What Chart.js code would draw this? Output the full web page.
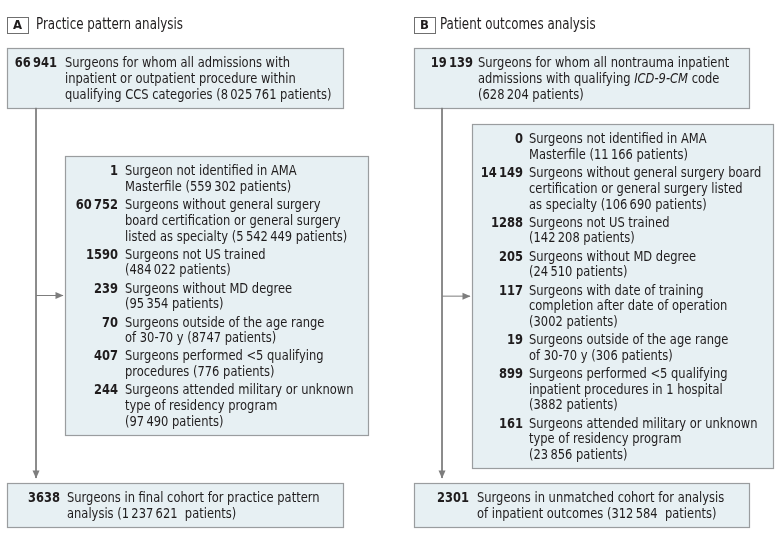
<!DOCTYPE html>
<html>
<head>
<meta charset="utf-8">
<script src="https://cdn.jsdelivr.net/npm/chart.js@4.4.1/dist/chart.umd.min.js"></script>
<style>
  html, body { margin: 0; padding: 0; background: #fff; }
  #wrap { width: 783px; height: 540px; }
</style>
</head>
<body>
<div id="wrap"><canvas id="flow" width="783" height="540"></canvas></div>
<script>
// ---- data ----
const panelLetters = ['A', 'B']
const panelTitles  = ['Practice pattern analysis', 'Patient outcomes analysis']

const startCounts = ['66\u2009941', '19\u2009139']
const startLines  = [
  ['Surgeons for whom all admissions with', 'inpatient or outpatient procedure within', 'qualifying CCS categories (8\u2009025\u2009761 patients)'],
  ['Surgeons for whom all nontrauma inpatient', 'admissions with qualifying *ICD-9-CM* code', '(628\u2009204 patients)']
]

const exclusionCountsA = ['1', '60\u2009752', '1590', '239', '70', '407', '244']
const exclusionLinesA  = [
  ['Surgeon not identified in AMA', 'Masterfile (559\u2009302 patients)'],
  ['Surgeons without general surgery', 'board certification or general surgery', 'listed as specialty (5\u2009542\u2009449 patients)'],
  ['Surgeons not US trained', '(484\u2009022 patients)'],
  ['Surgeons without MD degree', '(95\u2009354 patients)'],
  ['Surgeons outside of the age range', 'of 30-70 y (8747 patients)'],
  ['Surgeons performed <5 qualifying', 'procedures (776 patients)'],
  ['Surgeons attended military or unknown', 'type of residency program', '(97\u2009490 patients)']
]

const exclusionCountsB = ['0', '14\u2009149', '1288', '205', '117', '19', '899', '161']
const exclusionLinesB  = [
  ['Surgeons not identified in AMA', 'Masterfile (11\u2009166 patients)'],
  ['Surgeons without general surgery board', 'certification or general surgery listed', 'as specialty (106\u2009690 patients)'],
  ['Surgeons not US trained', '(142\u2009208 patients)'],
  ['Surgeons without MD degree', '(24\u2009510 patients)'],
  ['Surgeons with date of training', 'completion after date of operation', '(3002 patients)'],
  ['Surgeons outside of the age range', 'of 30-70 y (306 patients)'],
  ['Surgeons performed <5 qualifying', 'inpatient procedures in 1 hospital', '(3882 patients)'],
  ['Surgeons attended military or unknown', 'type of residency program', '(23\u2009856 patients)']
]

const finalCounts = ['3638', '2301']
const finalLines  = [
  ['Surgeons in final cohort for practice pattern', 'analysis (1\u2009237\u2009621  patients)'],
  ['Surgeons in unmatched cohort for analysis', 'of inpatient outcomes (312\u2009584  patients)']
]

// ---- layout (in canvas units, mapped through the chart scales) ----
const W = 783, H = 540
const lineH = 15.7, groupGap = 2.5, padTop = 15.5, padBottom = 13
const layout = [
  { letter: 7,   title: 36,  trunk: 36,
    top:   { x0: 7,   x1: 343, y0: 48,  num: 57,  txt: 65 },
    excl:  { x0: 65,  x1: 368, y0: 156, num: 118, txt: 125 },
    final: { x0: 7,   x1: 343, y0: 483, num: 60,  txt: 67 } },
  { letter: 414, title: 440, trunk: 442,
    top:   { x0: 414, x1: 749, y0: 48,  num: 473, txt: 478 },
    excl:  { x0: 472, x1: 773, y0: 124, num: 523, txt: 529 },
    final: { x0: 414, x1: 749, y0: 483, num: 469, txt: 477 } }
]

const boxFill   = '#e7f0f3'
const boxBorder = '#9a9d9f'
const lineColor = '#7d7d7d'
const textColor = '#1f1c1d'
const family    = "'Liberation Sans Narrow', 'DejaVu Sans Condensed', 'Liberation Sans', Arial, sans-serif"
const bodySize  = 14.5

const boxHeight = groups => {
  let n = 0
  groups.forEach(g => n += g.length)
  return padTop + (n - 1) * lineH + (groups.length - 1) * groupGap + padBottom
}

const panels = [0, 1].map(i => {
  const L = layout[i]
  const top   = { ...L.top,   counts: [startCounts[i]], groups: [startLines[i]] }
  const excl  = { ...L.excl,  counts: i === 0 ? exclusionCountsA : exclusionCountsB, groups: i === 0 ? exclusionLinesA : exclusionLinesB }
  const final = { ...L.final, counts: [finalCounts[i]], groups: [finalLines[i]] }
  ;[top, excl, final].forEach(b => b.y1 = b.y0 + boxHeight(b.groups))
  return { letter: panelLetters[i], title: panelTitles[i], L, top, excl, final }
})

// connectors drawn as line datasets
const connectors = []
panels.forEach(p => {
  const mid = (p.excl.y0 + p.excl.y1) / 2
  connectors.push({ data: [{ x: p.L.trunk, y: p.top.y1 }, { x: p.L.trunk, y: p.final.y0 - 5 }] })
  connectors.push({ data: [{ x: p.L.trunk, y: mid }, { x: p.excl.x0 - 2, y: mid }] })
})
connectors.forEach(d => Object.assign(d, {
  showLine: true, pointRadius: 0, borderColor: lineColor, borderWidth: 1, clip: false
}))

let hScale = 1

const drawRich = (ctx, text, x, y, weight) => {
  const parts = text.split('*')
  ctx.save()
  ctx.translate(x, y)
  ctx.scale(hScale, 1)
  ctx.textAlign = 'left'
  let off = 0
  parts.forEach((seg, k) => {
    ctx.font = (k % 2 ? 'italic ' : '') + weight + ' ' + bodySize + 'px ' + family
    ctx.fillText(seg, off, 0)
    off += ctx.measureText(seg).width
  })
  ctx.restore()
}

const flowPlugin = {
  id: 'flow',
  beforeDatasetsDraw(chart) {
    const { ctx, scales: { x, y } } = chart
    const px = v => x.getPixelForValue(v), py = v => y.getPixelForValue(v)

    ctx.save()
    ctx.font = bodySize + 'px ' + family
    hScale = 225 / ctx.measureText(startLines[0][0]).width
    ctx.restore()

    panels.forEach(p => {
      ctx.save()
      // letter tag
      ctx.fillStyle = '#fff'
      ctx.strokeStyle = '#6f6f6f'
      ctx.lineWidth = 1
      ctx.fillRect(px(p.L.letter), py(17), px(p.L.letter + 21) - px(p.L.letter), py(33) - py(17))
      ctx.strokeRect(px(p.L.letter) + 0.5, py(17) + 0.5, px(p.L.letter + 21) - px(p.L.letter), py(33) - py(17))
      ctx.fillStyle = textColor
      ctx.textBaseline = 'middle'
      ctx.textAlign = 'center'
      ctx.font = 'bold 13px ' + family
      ctx.fillText(p.letter, px(p.L.letter + 10.5), py(25.5))
      ctx.textAlign = 'left'
      ctx.save()
      ctx.translate(px(p.L.title), py(25))
      ctx.scale(hScale, 1)
      ctx.font = '15px ' + family
      ctx.fillText(p.title, 0, 0)
      ctx.restore()

      // boxes
      ;[p.top, p.excl, p.final].forEach(b => {
        const bx = Math.round(px(b.x0)) + 0.5, by = Math.round(py(b.y0)) + 0.5
        const bw = Math.round(px(b.x1) - px(b.x0)), bh = Math.round(py(b.y1) - py(b.y0))
        ctx.fillStyle = boxFill
        ctx.fillRect(bx, by, bw, bh)
        ctx.strokeStyle = boxBorder
        ctx.lineWidth = 1.2
        ctx.strokeRect(bx, by, bw, bh)
      })
      ctx.restore()
    })
  },
  afterDatasetsDraw(chart) {
    const { ctx, scales: { x, y } } = chart
    const px = v => x.getPixelForValue(v), py = v => y.getPixelForValue(v)

    ctx.save()
    ctx.fillStyle = lineColor
    panels.forEach(p => {
      // down arrow
      const tx = px(p.L.trunk), ty = py(p.final.y0 - 4.5)
      ctx.beginPath()
      ctx.moveTo(tx, ty)
      ctx.lineTo(tx - 3.5, ty - 8)
      ctx.lineTo(tx + 3.5, ty - 8)
      ctx.closePath()
      ctx.fill()
      // right arrow
      const mid = py((p.excl.y0 + p.excl.y1) / 2)
      const ax = px(p.excl.x0 - 1.5)
      ctx.beginPath()
      ctx.moveTo(ax, mid)
      ctx.lineTo(ax - 8, mid - 3.5)
      ctx.lineTo(ax - 8, mid + 3.5)
      ctx.closePath()
      ctx.fill()
    })
    ctx.restore()

    ctx.save()
    ctx.fillStyle = textColor
    ctx.textBaseline = 'middle'
    panels.forEach(p => {
      ;[p.top, p.excl, p.final].forEach(b => {
        let ly = b.y0 + padTop
        b.groups.forEach((g, gi) => {
          ctx.save()
          ctx.translate(px(b.num), py(ly))
          ctx.scale(hScale, 1)
          ctx.textAlign = 'right'
          ctx.font = 'bold ' + bodySize + 'px ' + family
          ctx.fillText(b.counts[gi], 0, 0)
          ctx.restore()
          g.forEach(line => {
            drawRich(ctx, line, px(b.txt), py(ly), 'normal')
            ly += lineH
          })
          ly += groupGap
        })
      })
    })
    ctx.restore()
  }
}

new Chart(document.getElementById('flow'), {
  type: 'scatter',
  data: { datasets: connectors },
  options: {
    responsive: false,
    animation: false,
    devicePixelRatio: 1,
    layout: { padding: 0 },
    events: [],
    plugins: {
      legend: { display: false },
      tooltip: { enabled: false }
    },
    scales: {
      x: { type: 'linear', min: 0, max: W, display: false },
      y: { type: 'linear', min: 0, max: H, reverse: true, display: false }
    }
  },
  plugins: [flowPlugin]
})
</script>
</body>
</html>
